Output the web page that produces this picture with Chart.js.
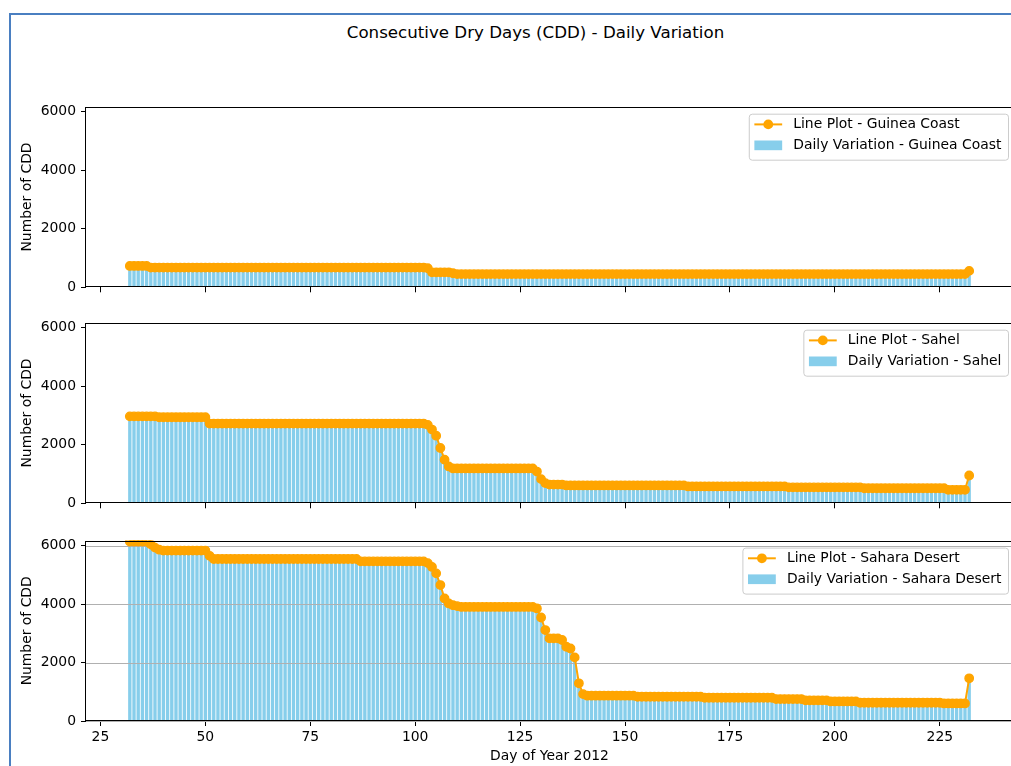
<!DOCTYPE html>
<html>
<head>
<meta charset="utf-8">
<script src="https://cdn.jsdelivr.net/npm/chart.js@4"></script>
<style>
html,body{margin:0;padding:0;background:#fff;width:1011px;height:766px;overflow:hidden;position:relative;}
#frame{position:absolute;left:9px;top:13px;width:1100px;height:800px;border-left:2px solid #4a7fc1;border-top:2px solid #4a7fc1;}
#title{position:absolute;left:0;width:1071px;top:22px;text-align:center;font-family:'DejaVu Sans',sans-serif;font-size:16.67px;line-height:21px;color:#000;white-space:nowrap;}
canvas{position:absolute;left:0;}
</style>
</head>
<body>
<div id="frame"></div>
<div id="title">Consecutive Dry Days (CDD) - Daily Variation</div>
<canvas id="c0" width="1020" height="216" style="top:86px"></canvas>
<canvas id="c1" width="1020" height="216" style="top:302px"></canvas>
<canvas id="c2" width="1020" height="246" style="top:520px"></canvas>
<script>
// ---------- DATA ----------
const firstDay = 32;
const lastDay = 232;
const days = [];
for (let d = firstDay; d <= lastDay; d++) days.push(d);

const regionNames = ['Guinea Coast', 'Sahel', 'Sahara Desert'];

// Guinea Coast, days 32..232
const guineaCoast = [
  730,730,730,730,730,675,675,675,675,675,
  675,675,675,675,675,675,675,675,675,675,
  675,675,675,675,675,675,675,675,675,675,
  675,675,675,675,675,675,675,675,675,675,
  675,675,675,675,675,675,675,675,675,675,
  675,675,675,675,675,675,675,675,675,675,
  675,675,675,675,675,675,675,675,675,675,
  675,650,513,513,513,513,513,480,450,450,
  450,450,450,450,450,450,450,450,450,450,
  450,450,450,450,450,450,450,450,450,450,
  450,450,450,450,450,450,450,450,450,450,
  450,450,450,450,450,450,450,450,450,450,
  450,450,450,450,450,450,450,450,450,450,
  450,450,450,450,450,450,450,450,450,450,
  450,450,450,450,450,450,450,450,450,450,
  450,450,450,450,450,450,450,450,450,450,
  450,450,450,450,450,450,450,450,450,450,
  450,450,450,450,450,450,450,450,450,450,
  450,450,450,450,450,450,450,450,450,450,
  450,450,450,450,450,450,450,450,450,450,
  560
];

// Sahel, days 32..232
const sahel = [
  2970,2970,2970,2970,2970,2970,2970,2940,2940,2940,
  2940,2940,2940,2940,2940,2940,2940,2940,2940,2725,
  2725,2725,2725,2725,2725,2725,2725,2725,2725,2725,
  2725,2725,2725,2725,2725,2725,2725,2725,2725,2725,
  2725,2725,2725,2725,2725,2725,2725,2725,2725,2725,
  2725,2725,2725,2725,2725,2725,2725,2725,2725,2725,
  2725,2725,2725,2725,2725,2725,2725,2725,2725,2725,
  2725,2680,2520,2310,1890,1490,1260,1190,1190,1190,
  1190,1190,1190,1190,1190,1190,1190,1190,1190,1190,
  1190,1190,1190,1190,1190,1190,1190,1085,825,690,
  640,640,640,640,610,610,610,610,610,610,
  610,610,610,610,610,610,610,610,610,610,
  610,610,610,610,610,610,610,610,610,610,
  610,610,610,575,575,575,575,575,575,575,
  575,575,575,575,575,575,575,575,575,575,
  575,575,575,575,575,575,575,545,545,545,
  545,545,545,545,545,545,545,545,545,545,
  545,545,545,545,545,515,515,515,515,515,
  515,515,515,515,515,515,515,515,515,515,
  515,515,515,515,515,460,460,460,460,460,
  950
];

// Sahara Desert, days 32..232
const saharaDesert = [
  6140,6140,6140,6140,6140,6040,5930,5860,5830,5830,
  5830,5830,5830,5830,5830,5830,5830,5830,5830,5650,
  5540,5540,5540,5540,5540,5540,5540,5540,5540,5540,
  5540,5540,5540,5540,5540,5540,5540,5540,5540,5540,
  5540,5540,5540,5540,5540,5540,5540,5540,5540,5540,
  5540,5540,5540,5540,5540,5460,5460,5460,5460,5460,
  5460,5460,5460,5460,5460,5460,5460,5460,5460,5460,
  5460,5400,5270,5050,4650,4190,4020,3960,3930,3900,
  3900,3900,3900,3900,3900,3900,3900,3900,3900,3900,
  3900,3900,3900,3900,3900,3900,3900,3850,3540,3110,
  2825,2825,2825,2770,2540,2480,2175,1290,920,865,
  865,865,865,865,865,865,865,865,865,865,
  865,830,830,830,830,830,830,830,830,830,
  830,830,830,830,830,830,830,795,795,795,
  795,795,795,795,795,795,795,795,795,795,
  795,795,795,795,750,750,750,750,750,750,
  750,705,705,705,705,705,705,670,670,670,
  670,670,670,670,625,625,625,625,625,625,
  625,625,625,625,625,625,625,625,625,625,
  625,625,625,625,600,600,600,600,600,600,
  1460
];

const xTicks = [25, 50, 75, 100, 125, 150, 175, 200, 225];
const yTicks = [0, 2000, 4000, 6000];
const yTickLabels = ['0', '2000', '4000', '6000'];
const xTitle = 'Day of Year 2012';
const yTitle = 'Number of CDD';

// ---------- STYLE ----------
const ORANGE = '#FFA500';
const SKY = '#87CEEB';
const FS = 13.9;
const FAMILY = "'DejaVu Sans', sans-serif";
Chart.defaults.font.family = FAMILY;
Chart.defaults.font.size = FS;
Chart.defaults.color = '#000';

const X_MIN = 21.56, X_MAX = 242.44, Y_MAX = 6170;
const MARKER_R = 4.2, MARKER_EDGE = 1.4;

const panels = [
  { id: 'c0', values: guineaCoast, name: regionNames[0], padTop: 20.7, plotH: 180.6, showX: false, grid: false },
  { id: 'c1', values: sahel,       name: regionNames[1], padTop: 20.7, plotH: 180.6, showX: false, grid: false },
  { id: 'c2', values: saharaDesert,name: regionNames[2], padTop: 20.6, plotH: 180.4, showX: true,  grid: true }
];

const decor = {
  id: 'panelDecor',
  afterDatasetDraw(chart, args, opts) {
    if (args.meta.type !== 'bar' || !opts.grid) return;
    const ctx = chart.ctx, y = chart.scales.y, a = chart.chartArea;
    ctx.save();
    ctx.strokeStyle = '#b0b0b0';
    ctx.lineWidth = 1.1;
    yTicks.forEach(v => {
      const py = Math.round(y.getPixelForValue(v)) + 0.5;
      ctx.beginPath(); ctx.moveTo(a.left, py); ctx.lineTo(a.right, py); ctx.stroke();
    });
    ctx.restore();
  },
  afterDraw(chart, args, opts) {
    const ctx = chart.ctx, a = chart.chartArea;
    ctx.save();
    ctx.strokeStyle = '#000';
    ctx.lineWidth = 1;
    const L = Math.round(a.left) - 0.5, T = Math.round(a.top) + 0.5, B = Math.round(a.bottom) - 0.5;
    ctx.strokeRect(L, T, a.right - L, B - T);
    // legend
    const labels = chart.data.datasets.map(d => d.label);
    ctx.font = FS + 'px ' + FAMILY;
    const tw = Math.max(...labels.map(l => ctx.measureText(l).width));
    const right = a.right - 5, top = a.top + 7;
    const w = 5.6 + 27.8 + 11.1 + tw + 6.6, h = 46;
    const left = right - w;
    ctx.beginPath();
    if (ctx.roundRect) ctx.roundRect(left + 0.5, top + 0.5, w, h, 3); else ctx.rect(left + 0.5, top + 0.5, w, h);
    ctx.fillStyle = 'rgba(255,255,255,0.8)';
    ctx.fill();
    ctx.strokeStyle = '#cccccc';
    ctx.lineWidth = 1;
    ctx.stroke();
    const r1 = top + 10.7, r2 = top + 31.7;
    const hx = left + 5.6;
    ctx.strokeStyle = ORANGE; ctx.lineWidth = 2;
    ctx.beginPath(); ctx.moveTo(hx, r1); ctx.lineTo(hx + 27.8, r1); ctx.stroke();
    ctx.fillStyle = ORANGE;
    ctx.beginPath(); ctx.arc(hx + 13.9, r1, MARKER_R + MARKER_EDGE / 2, 0, Math.PI * 2); ctx.fill();
    ctx.fillStyle = SKY;
    ctx.fillRect(hx, r2 - 4.9, 27.8, 9.7);
    ctx.fillStyle = '#000';
    ctx.textBaseline = 'middle';
    ctx.textAlign = 'left';
    ctx.fillText(labels[0], left + 44.5, r1);
    ctx.fillText(labels[1], left + 44.5, r2);
    ctx.restore();
  }
};

panels.forEach(p => {
  const canvas = document.getElementById(p.id);
  const xH = canvas.height - p.padTop - p.plotH;
  const pts = days.map((d, k) => ({ x: d, y: p.values[k] }));
  new Chart(canvas, {
    type: 'bar',
    data: {
      datasets: [
        {
          type: 'line', label: 'Line Plot - ' + p.name, data: pts,
          borderColor: ORANGE, backgroundColor: ORANGE, borderWidth: 2,
          pointRadius: MARKER_R, pointHoverRadius: MARKER_R, pointBorderWidth: MARKER_EDGE,
          pointBorderColor: ORANGE, pointBackgroundColor: ORANGE, tension: 0, order: 0
        },
        {
          type: 'bar', label: 'Daily Variation - ' + p.name, data: pts,
          backgroundColor: SKY, borderWidth: 0,
          barPercentage: 1, categoryPercentage: 0.8, order: 1
        }
      ]
    },
    options: {
      responsive: false,
      animation: false,
      events: [],
      layout: { padding: { top: p.padTop, right: 7, left: 0, bottom: 0 } },
      plugins: {
        legend: { display: false },
        tooltip: { enabled: false },
        panelDecor: { grid: p.grid }
      },
      scales: {
        x: {
          type: 'linear', min: X_MIN, max: X_MAX, offset: false,
          afterBuildTicks: s => { s.ticks = xTicks.map(v => ({ value: v })); },
          afterFit: s => { s.height = xH; },
          grid: { offset: false, drawOnChartArea: false, drawTicks: true, tickLength: 5, tickColor: '#000', tickWidth: 1, color: '#000' },
          border: { display: false },
          ticks: { display: p.showX, padding: 3, autoSkip: false, maxRotation: 0, minRotation: 0,
                   callback: v => String(v), color: '#000', font: { size: FS } },
          title: { display: p.showX, text: xTitle, padding: { top: 0, bottom: 1 }, color: '#000', font: { size: FS } }
        },
        y: {
          min: 0, max: Y_MAX,
          afterBuildTicks: s => { s.ticks = yTicks.map(v => ({ value: v })); },
          afterFit: s => { s.width = 86; },
          grid: { drawOnChartArea: false, drawTicks: true, tickLength: 5, tickColor: '#000', tickWidth: 1, color: '#000' },
          border: { display: false },
          ticks: { padding: 5, color: '#000', font: { size: FS },
                   callback: v => { const i = yTicks.indexOf(v); return i >= 0 ? yTickLabels[i] : ''; } },
          title: { display: true, text: yTitle, padding: { top: 19, bottom: 0 }, color: '#000', font: { size: FS } }
        }
      }
    },
    plugins: [decor]
  });
});
</script>
</body>
</html>
